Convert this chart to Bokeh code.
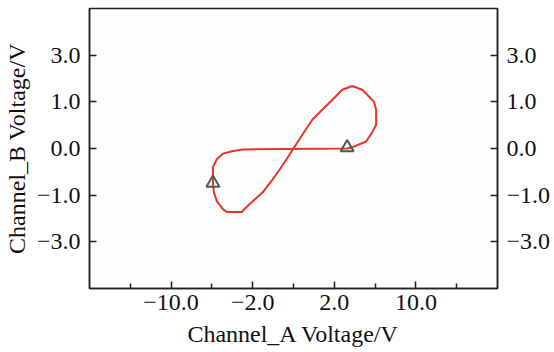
from bokeh.plotting import figure
from bokeh.models import FixedTicker, LinearAxis, Range1d
from bokeh.embed import file_html
from bokeh.resources import INLINE

# Traced loop (Channel_A, Channel_B) in axis units
chan_a = [2.63, 2.83, 3.07, 3.56, 3.85, 4.05, 4.05, 3.95, 3.71, 3.37, 2.88, 2.39, 1.90,
          1.41, 0.93, 0.44, 0.0, -0.34, -0.68, -1.02, -1.51, -2.15, -2.54, -2.88, -3.27,
          -3.46, -3.76, -3.90, -3.95, -3.95, -3.76, -3.46, -3.02, -2.49, 2.63]
chan_b = [0.0, 0.02, 0.06, 0.15, 0.34, 0.51, 0.83, 1.0, 1.11, 1.26, 1.34, 1.26, 1.04,
          0.83, 0.62, 0.30, 0.0, -0.23, -0.45, -0.66, -0.94, -1.19, -1.36, -1.36, -1.36,
          -1.30, -1.13, -0.94, -0.74, -0.40, -0.23, -0.11, -0.06, -0.02, 0.0]

marker_a = [2.63, -3.95]
marker_b = [0.02, -0.74]

x_ticks = [-6, -2, 2, 6]
x_minor = [-8, -4, 0, 4, 8]
x_labels = ["\u221210.0", "\u22122.0", "2.0", "10.0"]
y_ticks = [2, 1, 0, -1, -2]
y_labels = ["3.0", "1.0", "0.0", "\u22121.0", "\u22123.0"]

FONT = "Liberation Serif"

p = figure(width=538, height=336, output_backend="svg", toolbar_location=None,
           x_range=Range1d(-10, 10), y_range=Range1d(-3, 3),
           min_border_left=82, min_border_right=10, min_border_top=8, min_border_bottom=10)
p.frame_width = 408
p.frame_height = 280
p.grid.visible = False
p.background_fill_color = "#fdfdfb"
p.border_fill_color = "white"
p.outline_line_color = "#222222"
p.outline_line_width = 1.5

p.line(chan_a, chan_b, line_color="#e8342c", line_width=2)
p.scatter(marker_a, marker_b, marker="triangle", size=13, fill_color=None,
          line_color="#555555", line_width=2)

def style(ax, ticks, labels, minor=None):
    ax.ticker = FixedTicker(ticks=ticks, minor_ticks=minor or [])
    ax.major_label_overrides = {t: l for t, l in zip(ticks, labels)}
    ax.major_tick_in = 7
    ax.major_tick_out = 0
    ax.minor_tick_in = 5 if minor else 0
    ax.minor_tick_out = 0
    ax.axis_line_color = "#222222"
    ax.axis_line_width = 1.5
    ax.major_tick_line_color = "#222222"
    ax.major_tick_line_width = 1.5
    ax.minor_tick_line_color = "#222222" if minor else None
    ax.minor_tick_line_width = 1.5
    ax.major_label_text_font = FONT
    ax.major_label_text_font_size = "24px"
    ax.major_label_text_color = "#111111"
    ax.axis_label_text_font = FONT
    ax.axis_label_text_font_size = "24px"
    ax.axis_label_text_font_style = "normal"
    ax.axis_label_text_color = "#111111"

xa = p.xaxis[0]
style(xa, x_ticks, x_labels, x_minor)
xa.axis_label = "Channel_A Voltage/V"
xa.major_label_standoff = 6
xa.axis_label_standoff = 8

ya = p.yaxis[0]
style(ya, y_ticks, y_labels)
ya.axis_label = "Channel_B Voltage/V"
ya.major_label_standoff = 9
ya.axis_label_standoff = 4

yr = LinearAxis()
style(yr, y_ticks, y_labels)
yr.major_label_standoff = 9
p.add_layout(yr, "right")

open("out.html", "w").write(file_html(p, INLINE))
